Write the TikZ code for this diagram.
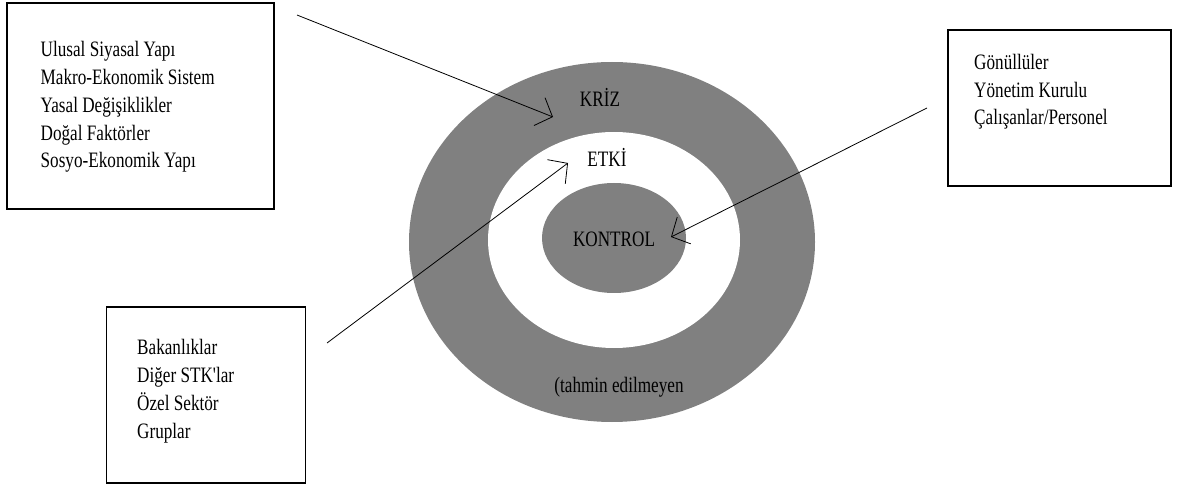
\documentclass[tikz,border=0pt]{standalone}
\usepackage{fontspec}
\setmainfont{Liberation Serif}[FakeStretch=0.78, Ligatures=TeXOff]
\usetikzlibrary{arrows.meta,positioning}
\tikzset{font=\fontsize{22}{27.5}\selectfont}
\tikzset{frame/.style={draw, line width=1.2pt, inner sep=0pt}}
\tikzset{item/.style={anchor=base west, inner sep=0pt}}
\tikzset{ringtext/.style={anchor=base, inner sep=0pt}}
\tikzset{pointer/.style={line width=0.8pt, -{Straight Barb[length=14pt,width=30pt]}}}

\begin{document}
\begin{tikzpicture}[x=1pt,y=-1pt]
\useasboundingbox (0,0) rectangle (1179,489);
% rings
\fill[gray] (612,242) ellipse [x radius=203, y radius=180];
\fill[white] (614,240) ellipse [x radius=126, y radius=108];
\fill[gray] (614,238) ellipse [x radius=72, y radius=55];
\node[ringtext] (kriz) at (600,107) {KRİZ};
\node[ringtext] (etki) at (607,167) {ETKİ};
\node[ringtext] (kontrol) at (614,247) {KONTROL};
\node[ringtext] (tahmin) at (619,392) {(tahmin edilmeyen};

% boxes
\node[frame, minimum width=267, minimum height=206] (env) at (140.5,106) {};
\foreach \t [count=\i] in {Ulusal Siyasal Yapı, Makro-Ekonomik Sistem, Yasal Değişiklikler, Doğal Faktörler, Sosyo-Ekonomik Yapı}
  \node[item] (env\i) at (40.5,{57+27.75*(\i-1)}) {\t};
\node[frame, minimum width=223, minimum height=156] (org) at (1059.5,108) {};
\foreach \t [count=\i] in {Gönüllüler, Yönetim Kurulu, Çalışanlar/Personel}
  \node[item] (org\i) at (974,{70+27.5*(\i-1)}) {\t};
\node[frame, minimum width=199, minimum height=176] (ext) at (206,395) {};
\foreach \t [count=\i] in {Bakanlıklar, Diğer STK'lar, Özel Sektör, Gruplar}
  \node[item] (ext\i) at (137,{355+27.75*(\i-1)}) {\t};

% arrows
\coordinate (envout) at (297,15);
\coordinate (krizin) at (553,117);
\coordinate (extout) at (327,343);
\coordinate (etkiin) at (568,163);
\coordinate (orgout) at (927,108);
\coordinate (kontrolin) at (671,237);
\draw[pointer] (envout) -- (krizin);
\draw[pointer] (extout) -- (etkiin);
\draw[pointer] (orgout) -- (kontrolin);

\end{tikzpicture}
\end{document}
